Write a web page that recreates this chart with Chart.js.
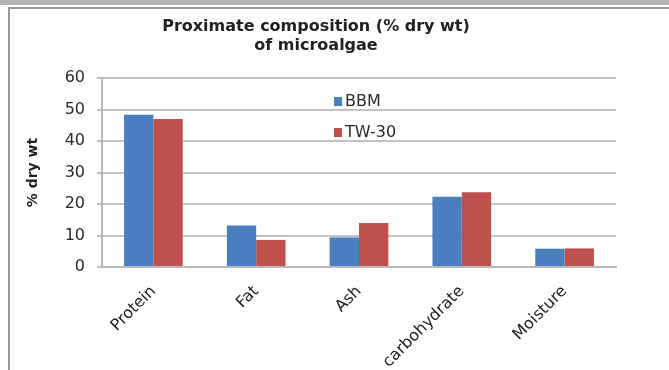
<!DOCTYPE html>
<html>
<head>
<meta charset="utf-8">
<script src="https://cdn.jsdelivr.net/npm/chart.js@4"></script>
<style>
  html, body { margin: 0; padding: 0; background: #fff; }
  body { width: 669px; height: 370px; position: relative; overflow: hidden; }
  #strip { position: absolute; left: 0; top: 0; width: 669px; height: 5px; background: #b4b4b4; }
  #frame { position: absolute; left: 8px; top: 7px; width: 661px; height: 363px;
           border-left: 2px solid #9a9a9a; border-top: 2px solid #9a9a9a; background: #fff; }
  #wrap { position: absolute; left: 10px; top: 9px; width: 659px; height: 361px; }
</style>
</head>
<body>
<div id="strip"></div>
<div id="frame"></div>
<div id="wrap"><canvas id="chart" width="659" height="361"></canvas></div>
<script>
// components and % dry weight per growth medium
const components = ['Protein', 'Fat', 'Ash', 'carbohydrate', 'Moisture'];
const bbm = [48.3, 13.2, 9.4, 22.3, 5.8];
const tw30 = [47.0, 8.6, 14.0, 23.7, 5.9];
const yTicks = [0, 10, 20, 30, 40, 50, 60];

const FONT = '"DejaVu Sans", sans-serif';

// legend drawn inside the plot, stacked vertically
const innerLegend = {
    id: 'innerLegend',
    afterDraw(chart) {
        const ctx = chart.ctx;
        const x = chart.chartArea.left + 232;
        const rows = [chart.chartArea.top + 23, chart.chartArea.top + 54];
        ctx.save();
        ctx.font = '16px ' + FONT;
        ctx.textBaseline = 'middle';
        chart.data.datasets.forEach((ds, i) => {
            ctx.fillStyle = ds.backgroundColor;
            ctx.fillRect(x, rows[i] - 4, 8, 9);
            ctx.fillStyle = '#2a2a2a';
            ctx.fillText(ds.label, x + 11, rows[i] + 1);
        });
        ctx.restore();
    }
};

// chart title, two lines centred over the plot
const topTitle = {
    id: 'topTitle',
    afterDraw(chart) {
        const ctx = chart.ctx;
        ctx.save();
        ctx.font = 'bold 16px ' + FONT;
        ctx.fillStyle = '#222';
        ctx.textAlign = 'center';
        ctx.textBaseline = 'middle';
        ctx.fillText('Proximate composition (% dry wt)', 306, 18);
        ctx.fillText('of microalgae', 306, 37);
        ctx.restore();
    }
};

new Chart('chart', {
    type: 'bar',
    data: {
        labels: components,
        datasets: [
            { label: 'BBM', data: bbm, backgroundColor: '#4a7ebf' },
            { label: 'TW-30', data: tw30, backgroundColor: '#c0504d' }
        ]
    },
    options: {
        responsive: false,
        animation: false,
        layout: { padding: { top: 69, right: 53, left: 0, bottom: 0 } },
        datasets: { bar: { categoryPercentage: 0.571, barPercentage: 1.0 } },
        plugins: {
            legend: { display: false },
            tooltip: { enabled: false }
        },
        scales: {
            x: {
                grid: { display: false, drawTicks: false },
                border: { color: '#b8b8b8', width: 2 },
                ticks: {
                    color: '#222',
                    font: { family: FONT, size: 16 },
                    minRotation: 45,
                    maxRotation: 45,
                    padding: 15,
                    autoSkip: false
                },
                afterFit(scale) { scale.height = 361 - 258; }
            },
            y: {
                min: 0,
                max: 60,
                afterBuildTicks(scale) { scale.ticks = yTicks.map(v => ({ value: v })); },
                grid: { color: '#c2c2c2', lineWidth: 2, tickLength: 5 },
                border: { color: '#b8b8b8', width: 2 },
                ticks: {
                    color: '#2a2a2a',
                    font: { family: FONT, size: 16 },
                    padding: 12
                },
                title: {
                    display: true,
                    text: '% dry wt',
                    color: '#222',
                    font: { family: FONT, size: 14, weight: 'bold' },
                    padding: { top: 15, bottom: 0 }
                },
                afterFit(scale) { scale.width = 92; }
            }
        }
    },
    plugins: [innerLegend, topTitle]
});
</script>
</body>
</html>
